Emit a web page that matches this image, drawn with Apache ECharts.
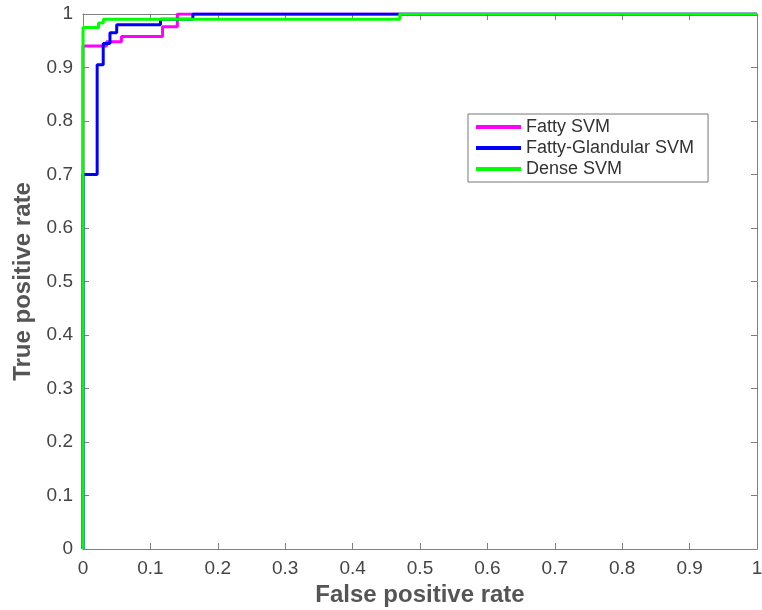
<!DOCTYPE html>
<html>
<head>
<meta charset="utf-8">
<script src="https://cdn.jsdelivr.net/npm/echarts@6/dist/echarts.min.js"></script>
<style>
	html, body { margin: 0; padding: 0; background: #fff; }
	#rocChart { width: 762px; height: 610px; }
</style>
</head>
<body>
<div id="rocChart"></div>
<script>
// ROC curves (step points)
var fattyFpr = [0, 0, 0.035, 0.035, 0.057, 0.057, 0.118, 0.118, 0.14, 0.14, 1];
var fattyTpr = [0, 0.94, 0.94, 0.948, 0.948, 0.958, 0.958, 0.976, 0.976, 1, 1];

var glandFpr = [0, 0, 0.021, 0.021, 0.03, 0.03, 0.04, 0.04, 0.05, 0.05, 0.115, 0.115, 0.163, 0.163, 1];
var glandTpr = [0, 0.7, 0.7, 0.905, 0.905, 0.945, 0.945, 0.965, 0.965, 0.98, 0.98, 0.99, 0.99, 1, 1];

var denseFpr = [0, 0, 0.023, 0.023, 0.03, 0.03, 0.47, 0.47, 1];
var denseTpr = [0, 0.975, 0.975, 0.983, 0.983, 0.99, 0.99, 1, 1];

var seriesNames = ['Fatty SVM', 'Fatty-Glandular SVM', 'Dense SVM'];
var seriesColors = ['#ff00ff', '#0000ff', '#00ff00'];

function zip(xs, ys) {
	var out = [];
	for (var i = 0; i < xs.length; i++) {
		out.push([xs[i], ys[i]]);
	}
	return out;
}

var font = 'Liberation Sans, Arial, Helvetica, sans-serif';
var axisGray = '#7f7f7f';
var textGray = '#444444';

function mainAxis(name, gap) {
	return {
		type: 'value',
		min: 0,
		max: 1,
		interval: 0.1,
		name: name,
		nameLocation: 'middle',
		nameGap: gap,
		nameTextStyle: {
			color: '#555555',
			fontSize: 24,
			fontWeight: 'bold',
			fontFamily: font
		},
		axisLine: { show: true, lineStyle: { color: axisGray, width: 1 } },
		axisTick: { show: true, inside: true, length: 6, lineStyle: { color: axisGray } },
		axisLabel: { color: textGray, fontSize: 19, fontFamily: font, margin: 10 },
		splitLine: { show: false }
	};
}

function boxAxis(pos) {
	return {
		type: 'value',
		position: pos,
		min: 0,
		max: 1,
		interval: 0.1,
		axisLine: { show: true, onZero: false, lineStyle: { color: axisGray, width: 1 } },
		axisTick: { show: true, inside: true, length: 6, lineStyle: { color: axisGray } },
		axisLabel: { show: false },
		splitLine: { show: false }
	};
}

var rocChart = echarts.init(document.getElementById('rocChart'));

var series = [];
var allData = [zip(fattyFpr, fattyTpr), zip(glandFpr, glandTpr), zip(denseFpr, denseTpr)];
for (var i = 0; i < seriesNames.length; i++) {
	series.push({
		name: seriesNames[i],
		type: 'line',
		symbol: 'none',
		data: allData[i],
		lineStyle: { color: seriesColors[i], width: 3 },
		itemStyle: { color: seriesColors[i] },
		z: 3 + i,
		animation: false
	});
}

rocChart.setOption({
	animation: false,
	grid: {
		left: 83,
		right: 5,
		top: 14,
		bottom: 61,
		outerBoundsMode: 'none'
	},
	legend: {
		orient: 'vertical',
		left: 468,
		top: 114,
		padding: [4, 14, 4, 8],
		itemGap: 3,
		itemWidth: 45,
		itemHeight: 4,
		icon: 'rect',
		borderColor: '#777777',
		borderWidth: 1,
		textStyle: { color: '#333333', fontSize: 18, fontFamily: font },
		data: seriesNames
	},
	xAxis: [mainAxis('False positive rate', 32), boxAxis('top')],
	yAxis: [mainAxis('True positive rate', 46), boxAxis('right')],
	series: series
});
</script>
</body>
</html>
